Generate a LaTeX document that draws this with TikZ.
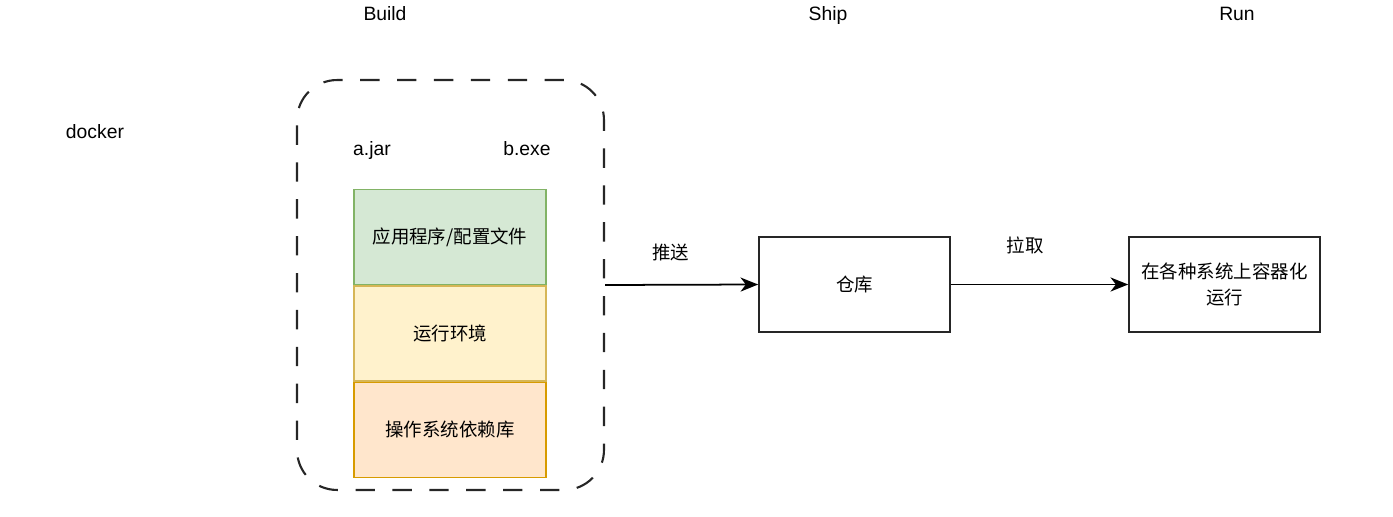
\documentclass[tikz,border=0pt]{standalone}
\usepackage{fontspec}
\setmainfont{Liberation Sans}
\newfontfamily\cjk{Noto Sans CJK SC}
\usepackage{xcolor}
\usetikzlibrary{positioning,arrows.meta}

\definecolor{appfill}{HTML}{D5E8D4}
\definecolor{appdraw}{HTML}{82B366}
\definecolor{envfill}{HTML}{FFF2CC}
\definecolor{envdraw}{HTML}{D6B656}
\definecolor{osfill}{HTML}{FFE6CC}
\definecolor{osdraw}{HTML}{D79B00}

\begin{document}
\begin{tikzpicture}[
    x=0.02cm, y=-0.02cm,
    every node/.style={font=\fontsize{11}{13}\selectfont},
    word/.style={text height=1.6ex, text depth=0.4ex},
    box/.style={rectangle, draw=black!85, line width=1pt, minimum width=3.82cm, minimum height=1.9cm, font=\cjk\fontsize{10.5}{15}\selectfont, align=center},
    layer/.style={rectangle, line width=0.85pt, minimum width=3.84cm, minimum height=1.9cm, font=\cjk\fontsize{10.5}{13}\selectfont},
    lbl/.style={font=\cjk\fontsize{10.5}{13}\selectfont, inner sep=1pt},
    arrow/.style={-{Stealth[length=10pt,width=8pt,inset=3pt]}, line width=1pt}
]
\useasboundingbox (0,0) rectangle (1393,517);

% Stage titles
\node[word] (build title) at (385,15) {Build};
\node[word] (ship title) at (828,15) {Ship};
\node[word] (run title) at (1237,15) {Run};
\node[word] (docker) at (95,133) {docker};

% Image built from layers
\node[rectangle, draw=black!85, line width=1.2pt, dash pattern=on 11pt off 10pt, rounded corners=0.8cm, minimum width=6.14cm, minimum height=8.2cm] (image) at (450.5,285) {};
\node[word] (jar) at (372,150) {a.jar};
\node[word] (exe) at (527,150) {b.exe};

\node[layer, fill=appfill, draw=appdraw] (app) at (450,237) {应用程序/配置文件};
\node[layer, fill=envfill, draw=envdraw, below=0cm of app] (env) {运行环境};
\node[layer, fill=osfill, draw=osdraw, below=0cm of env] (os) {操作系统依赖库};

% Registry and target
\node[box] (store) at (854.5,284.5) {仓库};
\node[box] (target) at (1224.5,284.5) {在各种系统上容器化\\运行};

\draw[arrow] (image.east) -- (store.west) node[lbl, pos=0.43, above=0.42cm] (push) {推送};
\draw[arrow] (store.east) -- (target.west) node[lbl, pos=0.42, above=0.56cm] (pull) {拉取};

\end{tikzpicture}
\end{document}
